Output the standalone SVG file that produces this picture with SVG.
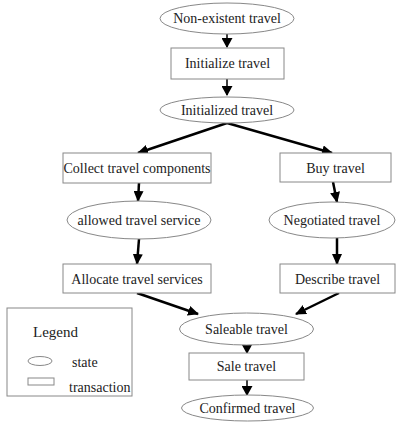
<svg xmlns="http://www.w3.org/2000/svg" width="401" height="422" viewBox="0 0 401 422">
<style>
.n{fill:#fff;stroke:#888;stroke-width:1}
.t{font-family:"Liberation Serif","Times New Roman",serif;font-size:14px;fill:#222;text-anchor:middle}
.l{font-family:"Liberation Serif","Times New Roman",serif;font-size:14px;fill:#222}
.c{stroke:#000;stroke-width:2.5;fill:none}
.cs{stroke:#000;stroke-width:1.5;fill:none}
</style>
<defs>
<marker id="ah" markerWidth="11" markerHeight="10" refX="10" refY="5" orient="auto" markerUnits="userSpaceOnUse">
<path d="M0,0 L11,5 L0,10 Z" fill="#000"/>
</marker>
<marker id="as" markerWidth="10" markerHeight="11" refX="9" refY="5.5" orient="auto" markerUnits="userSpaceOnUse">
<path d="M0,0 L10,5.5 L0,11 Z" fill="#000"/>
</marker>
</defs>
<rect width="401" height="422" fill="#fff"/>
<g id="connectors">
<path class="cs" d="M227,34 V47" marker-end="url(#as)"/>
<path class="cs" d="M227,79 V95" marker-end="url(#as)"/>
<path class="c" d="M227,123 L138,153" marker-end="url(#ah)"/>
<path class="c" d="M227,123 L332,153" marker-end="url(#ah)"/>
<path class="c" d="M139,183 L138,201" marker-end="url(#ah)"/>
<path class="c" d="M139,239 L137,264" marker-end="url(#ah)"/>
<path class="c" d="M333,182 L337,202" marker-end="url(#ah)"/>
<path class="c" d="M337,238 L337,264" marker-end="url(#ah)"/>
<path class="c" d="M137,293 L198,314" marker-end="url(#ah)"/>
<path class="c" d="M339,293 L296,314" marker-end="url(#ah)"/>
<path class="cs" d="M247,345 V353" marker-end="url(#as)"/>
<path class="cs" d="M247,380 V395" marker-end="url(#as)"/>
</g>
<g id="n1"><ellipse class="n" cx="227" cy="18.5" rx="67" ry="15.5"/><text class="t" x="227" y="23">Non-existent travel</text></g>
<g id="n2"><rect class="n" x="171" y="48" width="113" height="31"/><text class="t" x="227.5" y="68">Initialize travel</text></g>
<g id="n3"><ellipse class="n" cx="227" cy="110" rx="67" ry="13"/><text class="t" x="227" y="115">Initialized travel</text></g>
<g id="n4"><rect class="n" x="63" y="153" width="148" height="30"/><text class="t" x="137" y="173">Collect travel components</text></g>
<g id="n5"><ellipse class="n" cx="139" cy="220" rx="72" ry="19"/><text class="t" x="139" y="225">allowed travel service</text></g>
<g id="n6"><rect class="n" x="63" y="264" width="148" height="29"/><text class="t" x="137" y="284">Allocate travel services</text></g>
<g id="n7"><rect class="n" x="280" y="153" width="111" height="29"/><text class="t" x="335.5" y="173">Buy travel</text></g>
<g id="n8"><ellipse class="n" cx="332" cy="220" rx="63" ry="18"/><text class="t" x="332" y="225">Negotiated travel</text></g>
<g id="n9"><rect class="n" x="280" y="264" width="115" height="29"/><text class="t" x="337.5" y="284">Describe travel</text></g>
<g id="n10"><ellipse class="n" cx="246.5" cy="329" rx="67" ry="16"/><text class="t" x="246.5" y="334">Saleable travel</text></g>
<g id="n11"><rect class="n" x="189" y="353" width="115" height="27"/><text class="t" x="246.5" y="371">Sale travel</text></g>
<g id="n12"><ellipse class="n" cx="247.5" cy="408" rx="66" ry="13"/><text class="t" x="247.5" y="413">Confirmed travel</text></g>
<g id="legend">
<rect class="n" x="7" y="308" width="125" height="88"/>
<text class="l" x="33" y="337" style="font-size:15px">Legend</text>
<ellipse class="n" cx="40" cy="361" rx="12" ry="4.5"/>
<text class="l" x="72" y="367">state</text>
<rect class="n" x="28" y="378" width="26" height="7"/>
<text class="l" x="69" y="392">transaction</text>
</g>
</svg>
